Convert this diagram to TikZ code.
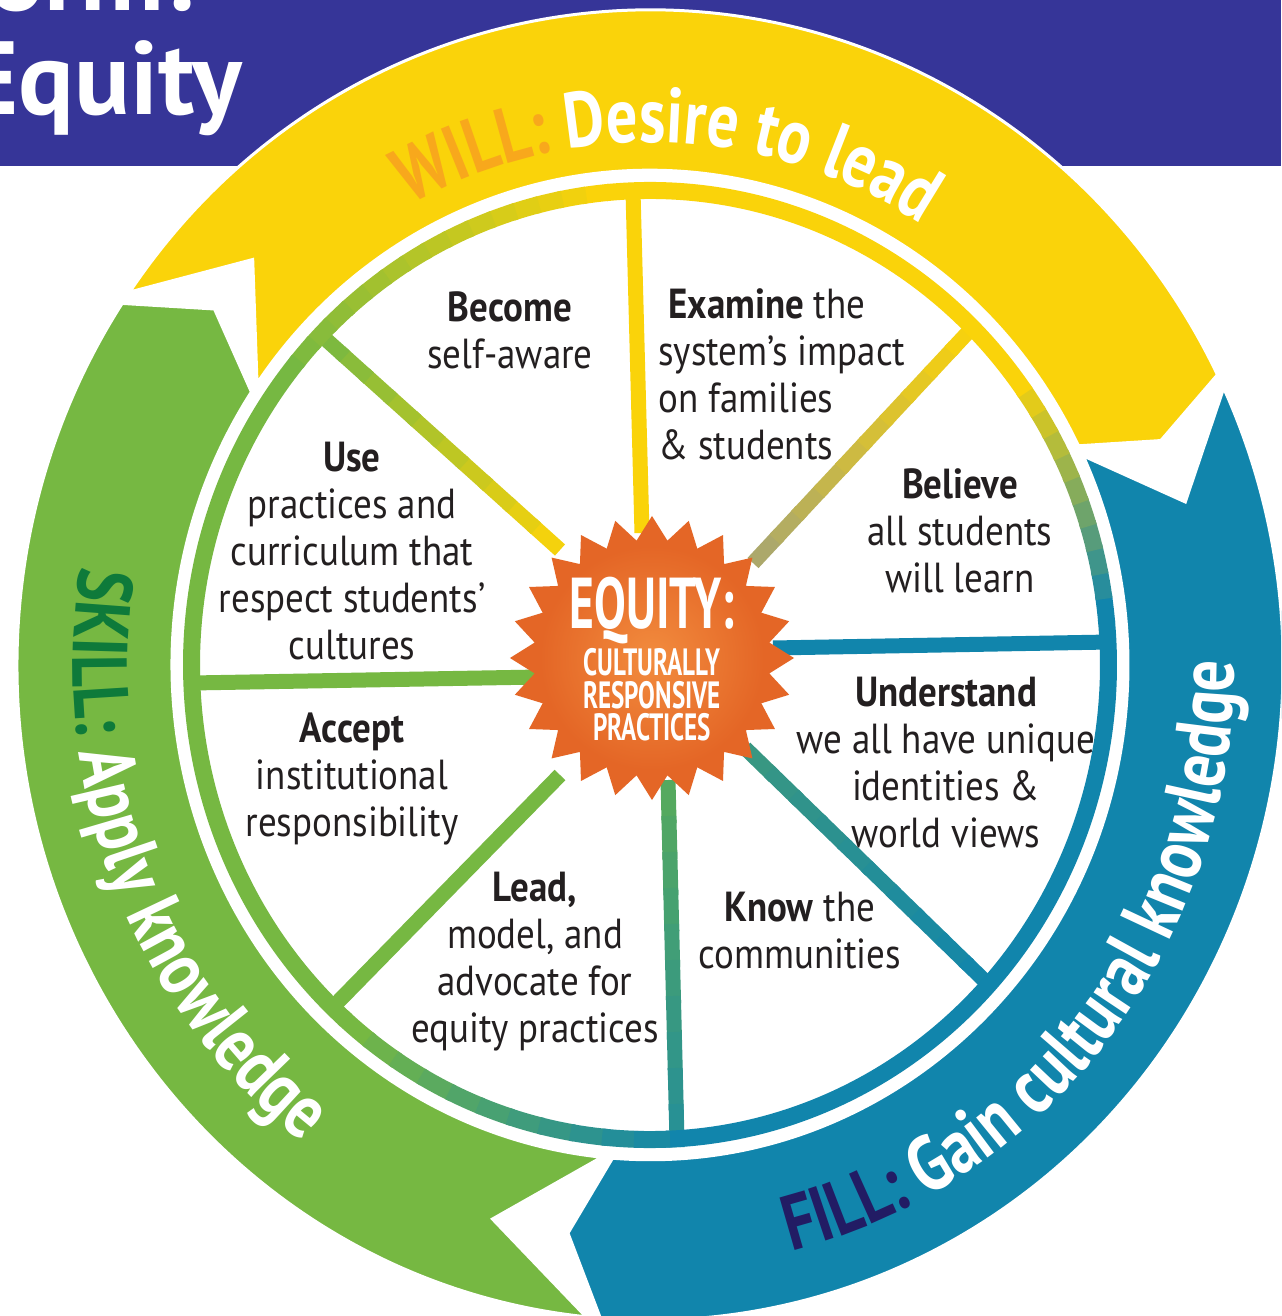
\documentclass[tikz,border=0pt]{standalone}
\usepackage{fontspec}
\setmainfont{PT Sans}
\newfontfamily\wheelfont{PT Sans}[FakeStretch=0.88]
\newfontfamily\ringfont{PT Sans}[FakeStretch=0.8]
\newfontfamily\corefont{PT Sans}[FakeStretch=0.66]
\newcommand{\ringtype}{\ringfont\bfseries\fontsize{39}{39}\selectfont}
\usetikzlibrary{shapes.geometric,decorations.text,calc}
\definecolor{bannerblue}{RGB}{54,53,152}
\definecolor{willyellow}{RGB}{250,211,10}
\definecolor{skillgreen}{RGB}{118,184,66}
\definecolor{fillblue}{RGB}{17,133,172}
\definecolor{willword}{RGB}{248,168,28}
\definecolor{skillword}{RGB}{14,122,58}
\definecolor{fillword}{RGB}{34,28,100}
\definecolor{sunorange}{RGB}{228,102,38}
\definecolor{sunlight}{RGB}{242,140,62}
\definecolor{olivegrey}{RGB}{168,166,112}
\definecolor{tealmix}{RGB}{58,152,128}
\definecolor{spokegreen}{RGB}{88,170,92}
\definecolor{textblack}{RGB}{35,31,32}
% spoke with a colour run: from, to, inner colour, outer colour
\newcommand{\gradspoke}[4]{%
  \foreach \k [evaluate=\k as \st using \k/10, evaluate=\k as \en using (\k+1.2)/10, evaluate=\k as \pc using \k*10+5] in {0,...,9}
    \draw[spoke, #4!\pc!#3] ($(#1)!\st!(#2)$) -- ($(#1)!\en!(#2)$);
}
\begin{document}
\begin{tikzpicture}[x=0.5pt, y=0.5pt,
  spoke/.style={line width=7.5pt},
  rim/.style={line width=8.5pt},
  ringedge/.style={draw=white, line width=1.5pt},
  heading/.style={anchor=base west, inner sep=0pt, text=white, font=\bfseries\fontsize{52}{52}\selectfont},
  cell/.style={font=\wheelfont\fontsize{21}{23.5}\selectfont, align=center, text=textblack, inner sep=0pt},
  corebig/.style={font=\corefont\bfseries\fontsize{36}{36}\selectfont, text=white, inner sep=0pt},
  coresmall/.style={font=\corefont\bfseries\fontsize{19}{16.2}\selectfont, text=white, align=center, inner sep=0pt}]
\useasboundingbox (-650,-651) rectangle (631,665);
\clip (-650,-651) rectangle (631,665);
\fill[white] (-650,-651) rectangle (631,665);

\fill[bannerblue] (-650,499) rectangle (631,665);
\node[heading] (heading1) at (-662,654) {orm:};
\node[heading] (heading2) at (-686,550) {Equity};

\begin{scope}[yscale=1.035]
\path[fill=willyellow, ringedge] (145.3:633) arc[start angle=145.3, end angle=26.3, radius=633] -- (23:555) -- (26.3:478) arc[start angle=26.3, end angle=145.3, radius=478] -- (135.4:558) -- cycle;
\path[fill=fillblue, ringedge] (25:633) arc[start angle=25, end angle=-94.5, radius=633] -- (-98.5:555) -- (-94.5:478) arc[start angle=-94.5, end angle=25, radius=478] -- (16.4:558) -- cycle;
\path[fill=skillgreen, ringedge] (-95.8:633) arc[start angle=-95.8, end angle=-213.5, radius=633] -- (-218.3:555) -- (-213.5:478) arc[start angle=-213.5, end angle=-95.8, radius=478] -- (-106.4:558) -- cycle;

\path[decorate, decoration={text along path, text align=center,
  text={|\ringtype\color{willword}|WILL:|\ringtype\color{white}| Desire to lead}}]
  (148:505) arc[start angle=148, end angle=28, radius=505];
\path[decorate, decoration={text along path, text align=center,
  text={|\ringtype\color{skillword}|SKILL:|\ringtype\color{white}| Apply knowledge}}]
  (151:577) arc[start angle=151, end angle=253, radius=577];
\path[decorate, decoration={text along path, text align=center,
  text={|\ringtype\color{fillword}|FILL:|\ringtype\color{white}| Gain cultural knowledge}}]
  (272:584) arc[start angle=272, end angle=372, radius=584];

\fill[white] (0,0) circle[radius=467];
\end{scope}

\coordinate (s1i) at (-8,132);   \coordinate (s1o) at (-17,474);
\coordinate (s2i) at (103,102);  \coordinate (s2o) at (322,337);
\coordinate (s3i) at (123,17);   \coordinate (s3o) at (460,23);
\coordinate (s4i) at (95,-83);   \coordinate (s4o) at (338,-319);
\coordinate (s5i) at (18,-115);  \coordinate (s5o) at (27,-475);
\coordinate (s6i) at (-90,-110); \coordinate (s6o) at (-317,-342);
\coordinate (s7i) at (-110,-12); \coordinate (s7o) at (-458,-18);
\coordinate (s8i) at (-90,115);  \coordinate (s8o) at (-329,330);

\draw[spoke, willyellow] (s1i) -- (s1o);
\gradspoke{s2i}{s2o}{olivegrey}{willyellow}
\draw[spoke, fillblue] (s3i) -- (s3o);
\gradspoke{s4i}{s4o}{tealmix}{fillblue}
\gradspoke{s5i}{s5o}{spokegreen}{fillblue!80!skillgreen}
\draw[spoke, skillgreen] (s6i) -- (s6o);
\draw[spoke, skillgreen] (s7i) -- (s7o);
\gradspoke{s8i}{s8o}{willyellow}{skillgreen}

\begin{scope}[yscale=1.035]
\draw[rim, fillblue] (-88:458.5) arc[start angle=-88, end angle=5.5, radius=458.5];
\foreach \a [evaluate=\a as \p using (\a-5)/30*100] in {5,8,...,32}
  \draw[rim, willyellow!\p!fillblue] (\a:458.5) arc[start angle=\a, end angle=\a+3.5, radius=458.5];
\draw[rim, willyellow] (35:458.5) arc[start angle=35, end angle=95.5, radius=458.5];
\foreach \a [evaluate=\a as \p using (\a-95)/45*100] in {95,98,...,137}
  \draw[rim, skillgreen!\p!willyellow] (\a:458.5) arc[start angle=\a, end angle=\a+3.5, radius=458.5];
\draw[rim, skillgreen] (140:458.5) arc[start angle=140, end angle=228.5, radius=458.5];
\foreach \a [evaluate=\a as \p using (\a-228)/44*100] in {228,232,...,268}
  \draw[rim, fillblue!\p!skillgreen] (\a:458.5) arc[start angle=\a, end angle=\a+4.5, radius=458.5];
\end{scope}

\node[star, star points=24, star point ratio=1.2, minimum size=142pt, inner sep=0pt, fill=sunorange] (sun) at (2,7) {};
\shade[inner color=sunlight, outer color=sunorange] (sun.center) circle[radius=112];
\node[corebig] (equity) at (2,54) {EQUITY:};
\node[coresmall] (crp) at (2,-30) {CULTURALLY\\RESPONSIVE\\PRACTICES};

\node[cell] (become) at (-140,335) {\textbf{Become}\\self-aware};
\node[cell, align=left, anchor=west] (examine) at (8,291) {\hspace*{5pt}\textbf{Examine} the\\system’s impact\\on families\\\& students};
\node[cell] (believe) at (310,134) {\textbf{Believe}\\all students\\will learn};
\node[cell] (use) at (-298,114) {\textbf{Use}\\practices and\\curriculum that\\respect students’\\cultures};
\node[cell] (accept) at (-298,-114) {\textbf{Accept}\\institutional\\responsibility};
\node[cell] (understand) at (296,-98) {\textbf{Understand}\\we all have unique\\identities \&\\world views};
\node[cell] (lead) at (-115,-297) {\textbf{Lead,}\\model, and\\advocate for\\equity practices};
\node[cell] (know) at (150,-266) {\textbf{Know} the\\communities};
\end{tikzpicture}
\end{document}
